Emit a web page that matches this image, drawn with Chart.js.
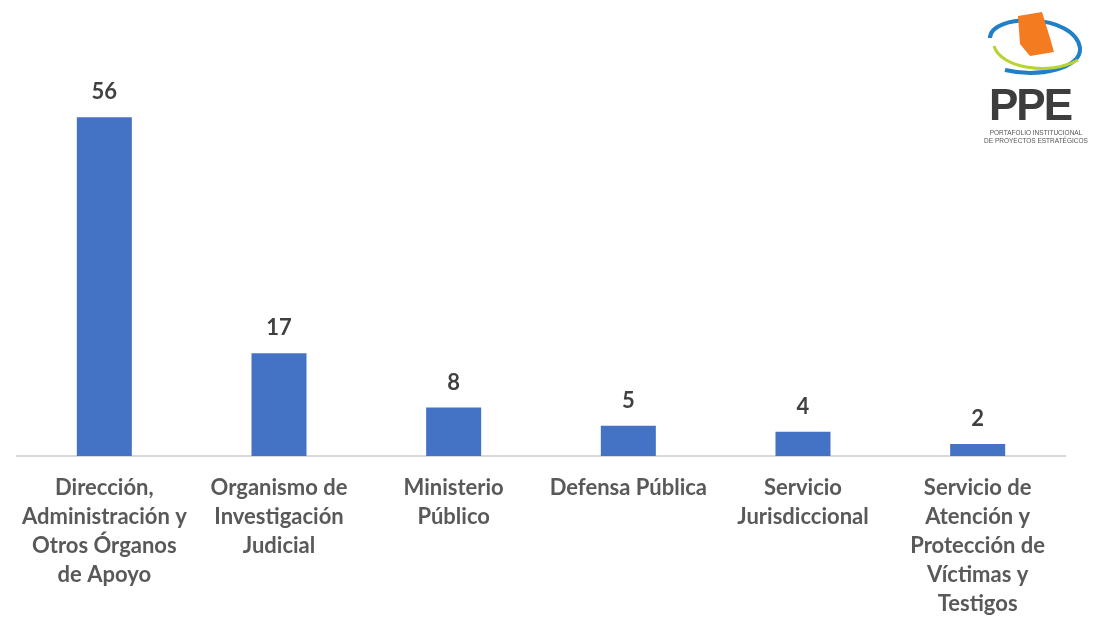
<!DOCTYPE html>
<html>
<head>
<meta charset="utf-8">
<script src="https://cdn.jsdelivr.net/npm/chart.js@4.4.1/dist/chart.umd.min.js"></script>
<style>
  html, body { margin: 0; padding: 0; background: #fff; }
  #wrap { position: relative; width: 1095px; height: 617px; overflow: hidden; }
  #chart { position: absolute; left: 0; top: 0; }
  #logo { position: absolute; left: 980px; top: 8px; width: 112px; height: 140px; }
  #logo .ppe { position: absolute; left: 9px; top: 72px; font: bold 44px "Liberation Sans", sans-serif; color: #3d3d3d; letter-spacing: -2px; }
  #logo .cap { position: absolute; left: 0px; top: 121px; font: 6.5px "Liberation Sans Narrow", "Liberation Sans", sans-serif; color: #555; line-height: 8px; text-align: center; width: 112px; white-space: nowrap; }
</style>
</head>
<body>
<div id="wrap">
  <canvas id="chart" width="1095" height="617"></canvas>
  <div id="logo">
    <svg width="110" height="80" style="position:absolute;left:0;top:0">
      <path d="M10 30 C 10 5, 95 5, 100 40 C 102 60, 60 70, 25 62" fill="none" stroke="#1f7fc7" stroke-width="4"/>
      <path d="M14 38 C 20 60, 70 68, 98 52" fill="none" stroke="#b7d433" stroke-width="3"/>
      <path d="M38 8 L62 4 L70 30 L74 44 L50 48 L40 36 Z" fill="#f47b20"/>
    </svg>
    <div class="ppe">PPE</div>
    <div class="cap">PORTAFOLIO INSTITUCIONAL<br>DE PROYECTOS ESTRATÉGICOS</div>
  </div>
</div>
<script>
// categories and values
const categories = [
  ['Dirección,', 'Administración y', 'Otros Órganos', 'de Apoyo'],
  ['Organismo de', 'Investigación', 'Judicial'],
  ['Ministerio', 'Público'],
  ['Defensa Pública'],
  ['Servicio', 'Jurisdiccional'],
  ['Servicio de', 'Atención y', 'Protección de', 'Víctimas y', 'Testigos']
];
const projectCounts = [56, 17, 8, 5, 4, 2];

// draw the value above each bar
const valueLabels = {
  id: 'valueLabels',
  afterDatasetsDraw(chart) {
    const ctx = chart.ctx;
    const meta = chart.getDatasetMeta(0);
    ctx.save();
    ctx.font = 'bold 22px Lato, "Open Sans", sans-serif';
    ctx.fillStyle = '#404040';
    ctx.textAlign = 'center';
    ctx.textBaseline = 'middle';
    meta.data.forEach((bar, i) => {
      ctx.fillText(projectCounts[i], bar.x, bar.y - 25);
    });
    ctx.restore();
  }
};

new Chart(document.getElementById('chart').getContext('2d'), {
  type: 'bar',
  data: {
    labels: categories,
    datasets: [{
      data: projectCounts,
      backgroundColor: '#4472c4',
      categoryPercentage: 1,
      barPercentage: 0.315,
    }]
  },
  options: {
    responsive: false,
    animation: false,
    layout: { padding: { left: 17, right: 30, top: 93, bottom: 0 } },
    plugins: { legend: { display: false }, tooltip: { enabled: false } },
    scales: {
      x: {
        grid: { display: false, drawTicks: false },
        border: { display: true, color: '#d9d9d9', width: 2 },
        ticks: {
          color: '#595959',
          font: { family: 'Lato, "Open Sans", sans-serif', size: 22, weight: 'bold', lineHeight: 1.32 },
          padding: 17,
          maxRotation: 0,
          autoSkip: false,
        },
        afterFit: (scale) => { scale.height = 161; },
      },
      y: {
        display: false,
        min: 0,
        max: 60,
      }
    }
  },
  plugins: [valueLabels]
});
</script>
</body>
</html>
